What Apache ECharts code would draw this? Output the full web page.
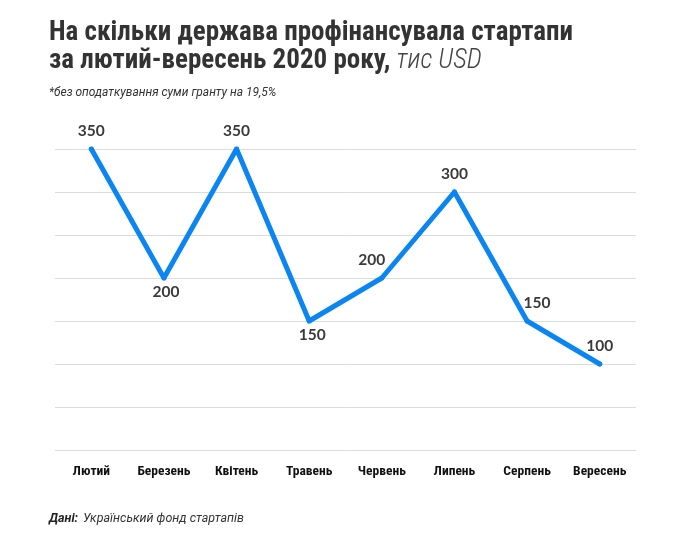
<!DOCTYPE html>
<html><head><meta charset="utf-8">
<script src="https://cdn.jsdelivr.net/npm/echarts@6/dist/echarts.min.js"></script>
<style>html,body{margin:0;padding:0;background:#fff}#c{width:690px;height:542px}</style>
</head><body><div id="c"></div>
<script>
const months = ['Лютий','Березень','Квітень','Травень','Червень','Липень','Серпень','Вересень'];
const values = [350, 200, 350, 150, 200, 300, 150, 100];
const labelPlacement = ['top','bottom','top','bottom','top','top','top','top'];
const labelShiftX = [0, 2, 0, 3, -10, 0, 10, 0];

const cond = "'Roboto Condensed', 'Roboto', sans-serif";
const plain = "Roboto, sans-serif";
const chart = echarts.init(document.getElementById('c'), null, {renderer:'canvas'});
chart.setOption({
  animation:false,
  backgroundColor:'#fff',
  title:[{
    left:49, top:19, padding:0,
    text:'{b|На скільки держава профінансувала стартапи}\n{b|за лютий-вересень 2020 року, }{i|тис USD}',
    textStyle:{rich:{
      b:{fontFamily:cond, fontWeight:'bold', fontSize:27, color:'#333', lineHeight:28},
      i:{fontFamily:cond, fontStyle:'italic', fontWeight:300, fontSize:27, color:'#444', lineHeight:28}
    }}
  },{
    left:49, top:87, padding:0,
    text:'*без оподаткування суми гранту на 19,5%',
    textStyle:{fontFamily:plain, fontStyle:'italic', fontWeight:'normal', fontSize:12, color:'#333'}
  },{
    left:49, top:510, padding:0,
    text:'{b|Дані:} {i|Український фонд стартапів}',
    textStyle:{rich:{
      b:{fontFamily:plain, fontStyle:'italic', fontWeight:'bold', fontSize:12.5, color:'#222'},
      i:{fontFamily:plain, fontStyle:'italic', fontWeight:'normal', fontSize:12.5, color:'#333'}
    }}
  }],
  grid:{left:55, right:54, top:149, bottom:92},
  xAxis:{
    type:'category', data:months, boundaryGap:true,
    axisLine:{show:false}, axisTick:{show:false},
    axisLabel:{interval:0, margin:15, fontFamily:cond, fontWeight:'bold', fontSize:13.5, color:'#111'}
  },
  yAxis:{
    type:'value', min:0, max:350, interval:50,
    axisLabel:{show:false}, axisLine:{show:false}, axisTick:{show:false},
    splitLine:{lineStyle:{color:'#dcdcdc', width:1}}
  },
  series:[{
    type:'line',
    data: values.map((v,i)=>({value:v, label:{position:labelPlacement[i], offset:[labelShiftX[i], labelPlacement[i]==='top'?-2:-3]}})),
    showSymbol:true, symbol:'circle', symbolSize:5,
    lineStyle:{color:'#0a85f2', width:5, cap:'round', join:'round'},
    itemStyle:{color:'#0a85f2', borderWidth:0},
    label:{show:true, fontFamily:'Lato, sans-serif', fontWeight:'bold', fontSize:15.5, color:'#3a3a3a', distance:6}
  }]
});
</script></body></html>
